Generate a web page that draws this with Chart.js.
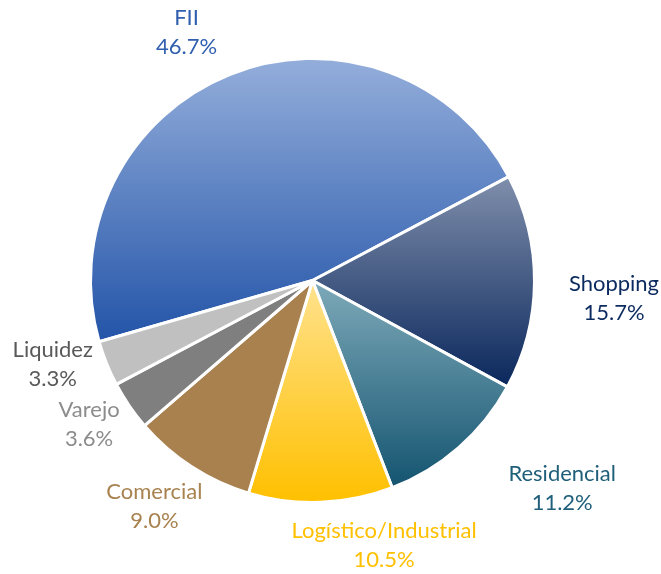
<!DOCTYPE html>
<html lang="pt">
<head>
<meta charset="UTF-8" />
<title>Alocação</title>
<script src="https://cdn.jsdelivr.net/npm/chart.js"></script>
<style>
  html, body { margin: 0; padding: 0; background: #fff; }
  #wrap { width: 661px; height: 574px; }
</style>
</head>
<body>
<div id="wrap"><canvas id="pie" width="661" height="574"></canvas></div>
<script>
const categorias = ["FII", "Shopping", "Residencial", "Logístico/Industrial", "Comercial", "Varejo", "Liquidez"];
const valores = [46.7, 15.7, 11.2, 10.5, 9.0, 3.6, 3.3];
const rotulos = ["46.7%", "15.7%", "11.2%", "10.5%", "9.0%", "3.6%", "3.3%"];

// gradient stops per slice (top -> bottom) and label colours
const coresTopo = ["#94aedb", "#7f8eab", "#7eaab9", "#ffe28e", "#a8814f", "#7f7f7f", "#c0c0c0"];
const coresBase = ["#2354a8", "#0a275c", "#145470", "#ffc000", "#a8814f", "#7f7f7f", "#c0c0c0"];
const coresTexto = ["#2f5fae", "#0b2a5f", "#1f5f7a", "#ffc000", "#a8824f", "#8c8c8c", "#595959"];
// label nudges: extra radius (px) and angle shift (deg) from each slice's mid angle
const labelDR = [56, 80, 103, 52, 54, 44, 51];
const labelDA = [-5, 3, -9, -13, 2, 1.5, 4];

const ROT = -106;
const BORDA = 3;

function fatiaGradiente(ctx) {
  const chart = ctx.chart;
  const area = chart.chartArea;
  const i = ctx.dataIndex;
  if (!area) return coresBase[i];
  const cx = (area.left + area.right) / 2;
  const cy = (area.top + area.bottom) / 2;
  const r = (Math.min(area.width, area.height) - BORDA) / 2;
  const total = valores.reduce((a, b) => a + b, 0);
  let a0 = (ROT - 90) * Math.PI / 180;
  for (let k = 0; k < i; k++) a0 += valores[k] / total * 2 * Math.PI;
  const a1 = a0 + valores[i] / total * 2 * Math.PI;
  const ys = [cy, cy + r * Math.sin(a0), cy + r * Math.sin(a1)];
  for (let k = -4; k <= 4; k++) {
    const t = Math.PI / 2 + k * Math.PI;
    if (t > a0 && t < a1) ys.push(cy + r * Math.sin(t));
  }
  const y0 = Math.min(...ys), y1 = Math.max(...ys);
  const g = chart.ctx.createLinearGradient(0, y0, 0, y1);
  g.addColorStop(0, coresTopo[i]);
  g.addColorStop(1, coresBase[i]);
  return g;
}

const rotulosPlugin = {
  id: 'rotulosFora',
  afterDatasetsDraw(chart) {
    const ctx = chart.ctx;
    const meta = chart.getDatasetMeta(0);
    ctx.save();
    ctx.font = '22px Lato, "Open Sans", sans-serif';
    ctx.textAlign = 'center';
    ctx.textBaseline = 'middle';
    meta.data.forEach((arc, i) => {
      const p = arc.getProps(['x', 'y', 'startAngle', 'endAngle', 'outerRadius'], true);
      const mid = (p.startAngle + p.endAngle) / 2 + labelDA[i] * Math.PI / 180;
      const d = p.outerRadius + labelDR[i];
      const lx = p.x + d * Math.cos(mid);
      const ly = p.y + d * Math.sin(mid);
      ctx.fillStyle = coresTexto[i];
      ctx.fillText(categorias[i], lx, ly - 14.5);
      ctx.fillText(rotulos[i], lx, ly + 14.5);
    });
    ctx.restore();
  }
};

new Chart(document.getElementById('pie'), {
  type: 'pie',
  data: {
    labels: categorias,
    datasets: [{
      data: valores,
      backgroundColor: fatiaGradiente,
      borderColor: '#ffffff',
      borderWidth: BORDA
    }]
  },
  options: {
    responsive: false,
    animation: false,
    rotation: ROT,
    layout: { padding: { top: 57, bottom: 70, left: 89, right: 125 } },
    plugins: {
      legend: { display: false },
      tooltip: { enabled: false }
    }
  },
  plugins: [rotulosPlugin]
});
</script>
</body>
</html>
